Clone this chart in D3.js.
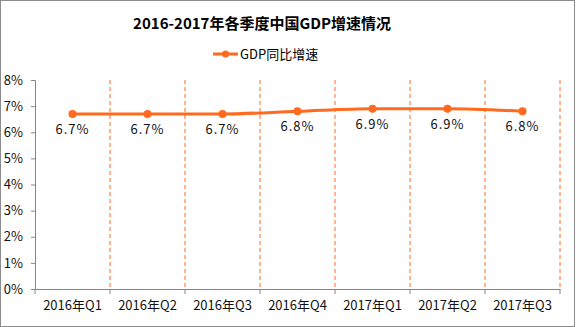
<!DOCTYPE html>
<html>
<head>
<meta charset="utf-8">
<script src="https://cdn.jsdelivr.net/npm/d3@7"></script>
<style>
  body { margin: 0; background: #fff; }
  text { font-family: "Noto Sans CJK SC", "DejaVu Sans", sans-serif; }
</style>
</head>
<body>
<div id="chart"></div>
<script>
var quarters = ["2016年Q1", "2016年Q2", "2016年Q3", "2016年Q4", "2017年Q1", "2017年Q2", "2017年Q3"];
var growth = [6.7, 6.7, 6.7, 6.8, 6.9, 6.9, 6.8];
var yTicks = [0, 1, 2, 3, 4, 5, 6, 7, 8];

var width = 576, height = 327;
var orange = "#ff6a1f";
var axisColor = "#868686";

var svg = d3.select("#chart").append("svg")
  .attr("width", width)
  .attr("height", height);

// outer frame
svg.append("rect")
  .attr("x", 0.5).attr("y", 0.5)
  .attr("width", width - 2).attr("height", height - 1)
  .attr("fill", "none")
  .attr("stroke", "#8c8c8c");

var x = d3.scaleBand().domain(quarters).range([35, 560]);
var y = d3.scaleLinear().domain([0, 8]).range([289, 80]);

// title
svg.append("text")
  .attr("x", 262).attr("y", 29)
  .attr("text-anchor", "middle")
  .attr("font-size", "15px")
  .attr("font-weight", "bold")
  .text("2016-2017年各季度中国GDP增速情况");

// legend
svg.append("line")
  .attr("x1", 213).attr("x2", 238).attr("y1", 54).attr("y2", 54)
  .attr("stroke", orange).attr("stroke-width", 3);
svg.append("circle")
  .attr("cx", 225.5).attr("cy", 54).attr("r", 3.5)
  .attr("fill", orange);
svg.append("text")
  .attr("x", 240).attr("y", 59)
  .attr("font-size", "13px")
  .text("GDP同比增速");

// dashed category separators
svg.selectAll("line.sep")
  .data(quarters)
  .enter()
  .append("line")
  .attr("class", "sep")
  .attr("x1", function(d) { return x(d) + x.bandwidth(); })
  .attr("x2", function(d) { return x(d) + x.bandwidth(); })
  .attr("y1", y(8)).attr("y2", y(0))
  .attr("stroke", orange)
  .attr("stroke-width", 1)
  .attr("stroke-dasharray", "4,3");

// y axis
var yAxis = d3.axisLeft(y)
  .tickValues(yTicks)
  .tickFormat(function(d) { return d + "%"; })
  .tickSize(4)
  .tickPadding(8);
var gy = svg.append("g").attr("transform", "translate(35,0)").call(yAxis);
gy.selectAll("path, line").attr("stroke", axisColor);
gy.selectAll("text").attr("font-size", "13px").attr("fill", "#111");

// x axis
var xAxis = d3.axisBottom(x).tickSize(0).tickPadding(12);
var gx = svg.append("g").attr("transform", "translate(0,289)").call(xAxis);
gx.select(".domain").attr("stroke", axisColor);
gx.selectAll("text").attr("font-size", "13px").attr("fill", "#111");
var bounds = [x.range()[0]].concat(quarters.map(function(d) { return x(d) + x.bandwidth(); }));
svg.selectAll("line.xtick")
  .data(bounds)
  .enter()
  .append("line")
  .attr("class", "xtick")
  .attr("x1", function(d) { return d; }).attr("x2", function(d) { return d; })
  .attr("y1", 289).attr("y2", 294)
  .attr("stroke", axisColor);

var cx = function(d, i) { return x(quarters[i]) + x.bandwidth() / 2; };

// series line
var line = d3.line()
  .x(function(d, i) { return cx(d, i); })
  .y(function(d) { return y(d); })
  .curve(d3.curveMonotoneX);

svg.append("path")
  .datum(growth)
  .attr("d", line)
  .attr("fill", "none")
  .attr("stroke", orange)
  .attr("stroke-width", 3);

svg.selectAll("circle.pt")
  .data(growth)
  .enter()
  .append("circle")
  .attr("class", "pt")
  .attr("cx", cx)
  .attr("cy", function(d) { return y(d); })
  .attr("r", 4)
  .attr("fill", orange);

// value labels
svg.selectAll("text.val")
  .data(growth)
  .enter()
  .append("text")
  .attr("class", "val")
  .attr("x", cx)
  .attr("y", function(d) { return y(d) + 20; })
  .attr("text-anchor", "middle")
  .attr("font-size", "13px")
  .attr("letter-spacing", "1px")
  .attr("fill", "#111")
  .text(function(d) { return d.toFixed(1) + "%"; });
</script>
</body>
</html>
